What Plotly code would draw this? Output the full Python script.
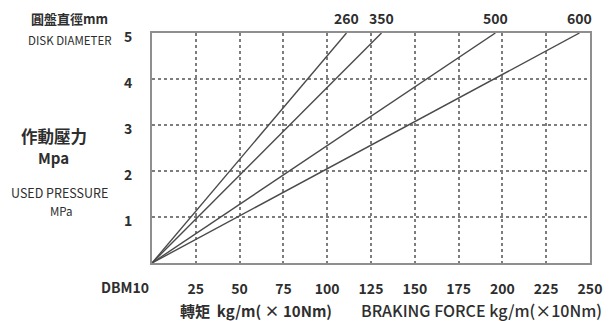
import plotly.graph_objects as go

# Data
disk_diameters = ["260", "350", "500", "600"]
torque_at_5mpa = [111, 131, 196, 244]   # braking force at 5 MPa per disk diameter
pressure_max = 5
x_ticks = [25, 50, 75, 100, 125, 150, 175, 200, 225, 250]
y_ticks = [1, 2, 3, 4, 5]

FONT = "Noto Sans CJK TC, Noto Sans, sans-serif"
TXT = "#2e2e2e"

# page offset of the plot div (browser body margin)
OFF = 8
W, H = 614 - OFF, 321 - OFF
L, R, T, B = 152 - OFF, 16, 33 - OFF, 58
pw, ph = W - L - R, H - T - B

fig = go.Figure()
for name, t in zip(disk_diameters, torque_at_5mpa):
    fig.add_trace(go.Scatter(x=[0, t], y=[0, pressure_max], mode="lines",
                             line=dict(color="#4a4a4a", width=1.4),
                             name=name, showlegend=False, hoverinfo="skip"))
    fig.add_annotation(x=t, y=pressure_max, text=name, showarrow=False,
                       xanchor="center", yanchor="bottom", yshift=4, borderpad=0,
                       font=dict(size=14, color=TXT, family=FONT, weight=600))

axis_common = dict(showgrid=True, gridcolor="#7d7d7d", griddash="dot", gridwidth=1.5,
                   showline=True, linecolor="#8f8f8f", linewidth=2, mirror=True,
                   ticks="", zeroline=False,
                   tickfont=dict(size=14, color=TXT, family=FONT, weight=600))
fig.update_xaxes(range=[0, 250], tickvals=x_ticks, ticktext=[str(v) for v in x_ticks],
                 ticklabelstandoff=12, **axis_common)
fig.update_yaxes(range=[0, 5], tickvals=y_ticks, ticktext=[str(v) for v in y_ticks],
                 ticklabelstandoff=15, ticklabelshift=4, **axis_common)

# (x, y) in reference-picture pixels
ann = [
    dict(x=68, y=19, text="圓盤直徑mm", size=13, weight=600),
    dict(x=68, y=40, text="DISK DIAMETER", size=11.5, weight=400),
    dict(x=52, y=136, text="作動壓力", size=16.5, weight=700),
    dict(x=52, y=157, text="Mpa", size=15, weight=600),
    dict(x=58, y=192, text="USED PRESSURE", size=12.5, weight=400),
    dict(x=60, y=211, text="MPa", size=11.5, weight=400),
    dict(x=125, y=287, text="DBM10", size=14, weight=600),
    dict(x=258, y=310, text="轉矩  kg/m( × 10Nm)", size=15, weight=600),
    dict(x=488, y=310, text="BRAKING FORCE kg/m(×10Nm)", size=16, weight=500),
]
for a in ann:
    fig.add_annotation(x=(a["x"] - OFF - L) / pw, y=(H - B - (a["y"] - OFF)) / ph,
                       xref="paper", yref="paper", text=a["text"], borderpad=0,
                       showarrow=False, xanchor="center", yanchor="middle",
                       font=dict(size=a["size"], color=TXT, family=FONT, weight=a["weight"]))

fig.update_layout(width=W, height=H, margin=dict(l=L, r=R, t=T, b=B),
                  plot_bgcolor="white", paper_bgcolor="white",
                  font=dict(family=FONT, color=TXT))
fig.write_html("out.html")
